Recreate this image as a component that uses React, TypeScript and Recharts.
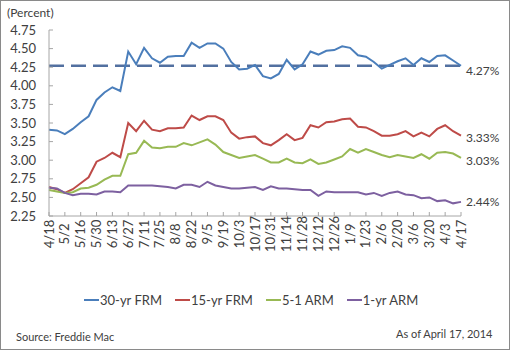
import { LineChart, Line, XAxis, YAxis, ReferenceLine, Legend, LabelList } from "recharts";

// weekly survey dates, Apr 2013 - Apr 2014
const weeks = [
  "4/18", "4/25", "5/2", "5/9", "5/16", "5/23", "5/30", "6/6", "6/13", "6/20",
  "6/27", "7/4", "7/11", "7/18", "7/25", "8/1", "8/8", "8/15", "8/22", "8/29",
  "9/5", "9/12", "9/19", "9/26", "10/3", "10/10", "10/17", "10/24", "10/31", "11/7",
  "11/14", "11/21", "11/28", "12/5", "12/12", "12/19", "12/26", "1/2", "1/9", "1/16",
  "1/23", "1/30", "2/6", "2/13", "2/20", "2/27", "3/6", "3/13", "3/20", "3/27",
  "4/3", "4/10", "4/17",
];

const tickLabels = [
  "4/18", "5/2", "5/16", "5/30", "6/13", "6/27", "7/11", "7/25", "8/8", "8/22",
  "9/5", "9/19", "10/3", "10/17", "10/31", "11/14", "11/28", "12/12", "12/26", "1/9",
  "1/23", "2/6", "2/20", "3/6", "3/20", "4/3", "4/17",
];

const frm30 = [
  3.41, 3.40, 3.35, 3.42, 3.51, 3.59, 3.81, 3.91, 3.98, 3.93,
  4.46, 4.29, 4.51, 4.37, 4.31, 4.39, 4.40, 4.40, 4.58, 4.51,
  4.57, 4.57, 4.50, 4.32, 4.22, 4.23, 4.28, 4.13, 4.10, 4.16,
  4.35, 4.22, 4.29, 4.46, 4.42, 4.47, 4.48, 4.53, 4.51, 4.41,
  4.39, 4.32, 4.23, 4.28, 4.33, 4.37, 4.28, 4.37, 4.32, 4.40,
  4.41, 4.34, 4.27,
];

const frm15 = [
  2.64, 2.61, 2.56, 2.61, 2.69, 2.77, 2.98, 3.03, 3.10, 3.04,
  3.50, 3.39, 3.53, 3.41, 3.39, 3.43, 3.43, 3.44, 3.60, 3.54,
  3.59, 3.59, 3.54, 3.37, 3.29, 3.31, 3.32, 3.23, 3.20, 3.27,
  3.35, 3.27, 3.30, 3.47, 3.44, 3.51, 3.52, 3.55, 3.56, 3.45,
  3.44, 3.39, 3.33, 3.33, 3.35, 3.39, 3.32, 3.37, 3.32, 3.42,
  3.47, 3.39, 3.33,
];

const arm51 = [
  2.60, 2.58, 2.56, 2.57, 2.62, 2.63, 2.67, 2.74, 2.79, 2.79,
  3.08, 3.10, 3.26, 3.17, 3.16, 3.18, 3.18, 3.23, 3.20, 3.24,
  3.28, 3.21, 3.11, 3.07, 3.03, 3.05, 3.07, 3.02, 2.97, 2.97,
  3.02, 2.97, 2.96, 3.01, 2.95, 2.97, 3.01, 3.05, 3.15, 3.10,
  3.15, 3.11, 3.07, 3.04, 3.07, 3.05, 3.03, 3.08, 3.02, 3.10,
  3.11, 3.09, 3.03,
];

const arm1 = [
  2.63, 2.62, 2.56, 2.53, 2.55, 2.55, 2.54, 2.58, 2.58, 2.57,
  2.66, 2.66, 2.66, 2.66, 2.65, 2.64, 2.62, 2.67, 2.67, 2.64,
  2.71, 2.66, 2.64, 2.62, 2.62, 2.63, 2.64, 2.60, 2.65, 2.62,
  2.62, 2.61, 2.60, 2.60, 2.52, 2.58, 2.57, 2.57, 2.57, 2.57,
  2.54, 2.56, 2.52, 2.56, 2.58, 2.54, 2.53, 2.49, 2.50, 2.45,
  2.46, 2.42, 2.44,
];

const yTicks = [2.25, 2.5, 2.75, 3.0, 3.25, 3.5, 3.75, 4.0, 4.25, 4.5, 4.75];
const benchmark = 4.27;

const series = [
  { key: "frm30", name: "30-yr FRM", color: "#4A7EBB", labelDy: 5 },
  { key: "frm15", name: "15-yr FRM", color: "#BE4B48", labelDy: 2 },
  { key: "arm51", name: "5-1 ARM", color: "#98B954", labelDy: 3 },
  { key: "arm1", name: "1-yr ARM", color: "#7D60A0", labelDy: 0 },
];

const data = weeks.map((week, i) => ({
  week,
  frm30: frm30[i],
  frm15: frm15[i],
  arm51: arm51[i],
  arm1: arm1[i],
}));

const font = "Lato, 'Open Sans', sans-serif";
const textColor = "#404040";

const XTick = (props: any) => {
  const { x, y, payload } = props;
  return (
    <text
      x={x}
      y={y}
      transform={`rotate(-90 ${x} ${y})`}
      textAnchor="middle"
      dy="0.35em"
      fontSize={13}
      fontFamily={font}
      fill={textColor}
    >
      {payload.value}
    </text>
  );
};

const endLabel = (dy: number) => (props: any) => {
  const { x, y, value, index } = props;
  if (index !== weeks.length - 1) return null;
  return (
    <text x={x + 5} y={y + dy} dy="0.35em" fontSize={12} fontFamily={font} fill={textColor}>
      {Number(value).toFixed(2)}%
    </text>
  );
};

const renderLegend = () => (
  <div style={{ display: "flex", fontFamily: font, fontSize: 13, color: textColor }}>
    {series.map((s) => (
      <div key={s.key} style={{ display: "flex", alignItems: "center", marginRight: 13 }}>
        <span style={{ display: "inline-block", width: 15, height: 2, background: s.color, marginRight: 1 }} />
        <span>{s.name}</span>
      </div>
    ))}
  </div>
);

export default function App() {
  return (
    <div style={{ position: "absolute", left: 0, top: 0, width: 510, height: 350, background: "#fff" }}>
      <div style={{ position: "absolute", left: 7, top: 5, fontFamily: font, fontSize: 12, color: textColor }}>
        (Percent)
      </div>
      <LineChart width={510} height={350} data={data} margin={{ top: 30, right: 49, bottom: 104, left: 0 }}>
        <XAxis
          dataKey="week"
          ticks={tickLabels}
          interval={0}
          tick={<XTick />}
          tickSize={-4}
          tickMargin={22}
          stroke="#A6A6A6"
        />
        <YAxis
          domain={[2.25, 4.75]}
          ticks={yTicks}
          interval={0}
          width={49}
          tickSize={-4}
          tickMargin={17}
          tickFormatter={(v: number) => v.toFixed(2)}
          stroke="#A6A6A6"
          tick={{ fontSize: 13, fontFamily: font, fill: textColor }}
        />
        <ReferenceLine y={benchmark} stroke="#5270A0" strokeWidth={2.5} strokeDasharray="15 7" />
        {series.map((s) => (
          <Line
            key={s.key}
            type="linear"
            dataKey={s.key}
            name={s.name}
            stroke={s.color}
            strokeWidth={2}
            dot={false}
            isAnimationActive={false}
          >
            <LabelList dataKey={s.key} content={endLabel(s.labelDy)} />
          </Line>
        ))}
        <Legend
          layout="horizontal"
          verticalAlign="middle"
          align="center"
          content={renderLegend}
          wrapperStyle={{ top: 292, left: 84, width: "auto" }}
        />
      </LineChart>
      <div style={{ position: "absolute", left: 16, top: 330, fontFamily: font, fontSize: 11, color: textColor }}>
        Source: Freddie Mac
      </div>
      <div style={{ position: "absolute", left: 396, top: 327, fontFamily: font, fontSize: 11, color: textColor }}>
        As of April 17, 2014
      </div>
      <div
        style={{
          position: "absolute",
          left: 0,
          top: 0,
          width: 510,
          height: 350,
          boxSizing: "border-box",
          border: "1px solid #8A8A8A",
          pointerEvents: "none",
        }}
      />
    </div>
  );
}
